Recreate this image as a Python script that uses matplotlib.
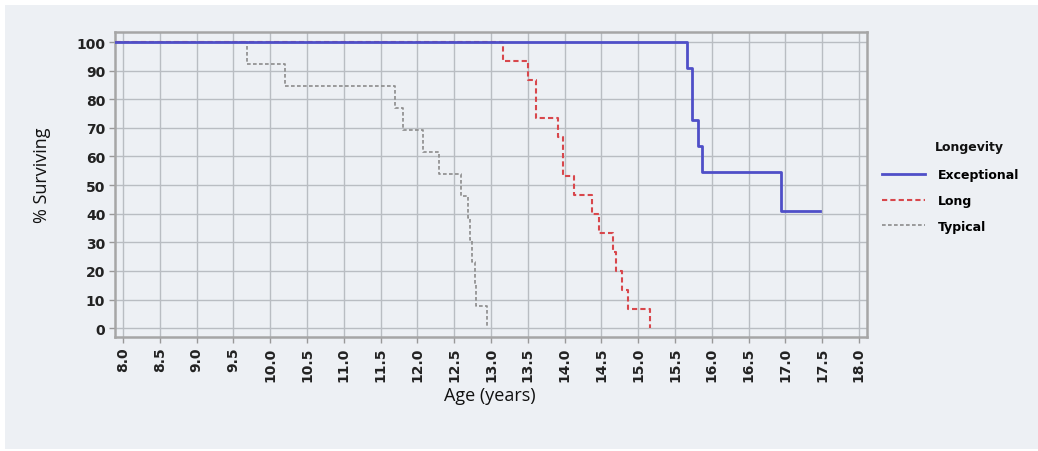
import matplotlib
matplotlib.use("Agg")
import matplotlib.pyplot as plt
from matplotlib.patches import Rectangle
from matplotlib.lines import Line2D

# ---- data ----
exc_t = [0, 15.66, 15.73, 15.81, 15.87, 16.94, 17.47]
exc_s = [100, 90.9, 72.7, 63.6, 54.5, 40.9, 40.9]

long_t = [0, 13.16, 13.50, 13.61, 13.91, 13.98, 14.13, 14.37, 14.47, 14.66, 14.70, 14.78, 14.86, 15.16]
long_s = [100, 93.3, 86.7, 73.3, 66.7, 53.3, 46.7, 40.0, 33.3, 26.7, 20.0, 13.3, 6.7, 0]

typ_t = [0, 9.68, 10.20, 11.70, 11.80, 12.08, 12.30, 12.59, 12.69, 12.71, 12.74, 12.78, 12.80, 12.95]
typ_s = [100, 92.3, 84.6, 76.9, 69.2, 61.5, 53.8, 46.2, 38.5, 30.8, 23.1, 15.4, 7.7, 0]

x_ticks = [8.0, 8.5, 9.0, 9.5, 10.0, 10.5, 11.0, 11.5, 12.0, 12.5, 13.0, 13.5,
           14.0, 14.5, 15.0, 15.5, 16.0, 16.5, 17.0, 17.5, 18.0]
y_ticks = [0, 10, 20, 30, 40, 50, 60, 70, 80, 90, 100]
labels = ["Exceptional", "Long", "Typical"]
legend_title = "Longevity"

W, H = 1038, 452
BG = "#edf0f4"
fig = plt.figure(figsize=(W / 100, H / 100), dpi=100, facecolor="white")
fig.patches.append(Rectangle((5 / W, 2 / H), (W - 5) / W, (H - 8) / H,
                             transform=fig.transFigure, facecolor=BG,
                             edgecolor="none", zorder=-10))

ax = fig.add_axes([115 / W, 1 - 338 / H, (867 - 115) / W, (338 - 33) / H])
ax.set_facecolor(BG)

c_exc = "#4f4fc8"
c_long = "#d8474c"
c_typ = "#8c8c8c"

ax.step(typ_t, typ_s, where="post", color=c_typ, lw=1.2, ls=(0, (2.2, 1.4)), zorder=3)
ax.step(long_t, long_s, where="post", color=c_long, lw=1.5, ls=(0, (2.5, 1.5)), zorder=4)
ax.step(exc_t, exc_s, where="post", color=c_exc, lw=2.0, zorder=5)

ax.set_xlim(7.89, 18.11)
ax.set_ylim(-3.1, 103.5)
ax.set_xticks(x_ticks)
ax.set_xticklabels([f"{v:.1f}" for v in x_ticks], rotation=90,
                   fontsize=10, fontweight="bold", color="#222222",
                   family="DejaVu Sans")
ax.set_yticks(y_ticks)
ax.set_yticklabels([str(v) for v in y_ticks], fontsize=10, fontweight="bold",
                   color="#222222", family="DejaVu Sans")
ax.tick_params(axis="both", length=4, width=1, color="#999999", pad=3)
ax.grid(True, color="#b9bdc2", lw=1.0, zorder=0)
ax.set_axisbelow(True)
for sp in ax.spines.values():
    sp.set_color("#a6a6a6")
    sp.set_linewidth(1.8)

fig.text(42 / W, 1 - 175 / H, "% Surviving", rotation=90, ha="center",
         va="center", fontsize=13, family="Open Sans", color="#111111")
fig.text(490 / W, 1 - 396 / H, "Age (years)", ha="center", va="center",
         fontsize=13, family="Open Sans", color="#111111")

handles = [Line2D([], [], color=c_exc, lw=2.0),
           Line2D([], [], color=c_long, lw=1.5, ls=(0, (2.5, 1.5))),
           Line2D([], [], color=c_typ, lw=1.2, ls=(0, (2.2, 1.4)))]
fig.legend(handles, labels, loc="upper left",
           bbox_to_anchor=(882 / W, 1 - 169.5 / H), frameon=False,
           borderpad=0, borderaxespad=0, handlelength=3.45, handletextpad=1.05,
           labelspacing=1.0, prop={"family": "DejaVu Sans", "weight": "bold",
                                   "size": 9})
fig.text(935 / W, 1 - 148 / H, legend_title, ha="left", va="center",
         fontsize=9, fontweight="bold", family="DejaVu Sans", color="#111111")

fig.savefig("out.png", dpi=100, facecolor="white")
